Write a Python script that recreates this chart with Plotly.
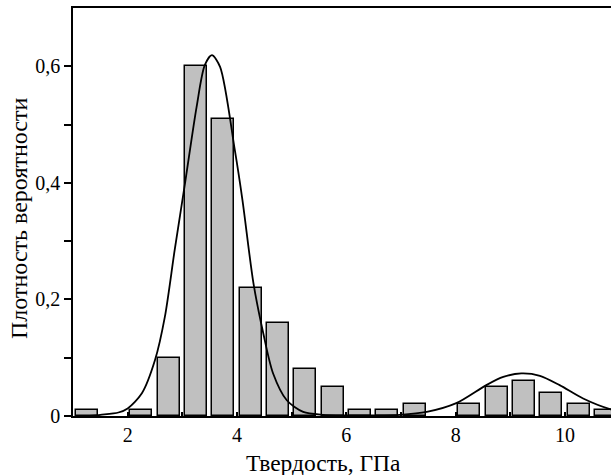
import plotly.graph_objects as go

# Histogram bins (centers, GPa) and probability density values (None = empty bin)
bin_centers = [1.25, 1.75, 2.25, 2.75, 3.25, 3.75, 4.25, 4.75, 5.25, 5.75,
               6.25, 6.75, 7.25, 7.75, 8.25, 8.75, 9.25, 9.75, 10.25, 10.75]
density = [0.01, None, 0.01, 0.10, 0.60, 0.51, 0.22, 0.16, 0.08, 0.05,
           0.01, 0.01, 0.02, None, 0.02, 0.05, 0.06, 0.04, 0.02, 0.01]

# Fitted density curve
curve_x = [1.3, 1.5, 1.83, 2.0, 2.26, 2.5, 2.68, 2.86, 3.05, 3.26, 3.41, 3.54,
           3.69, 3.96, 4.10, 4.30, 4.48, 4.66, 4.91, 5.21, 5.57, 6.0, 6.5,
           6.98, 7.47, 8.01, 8.56, 8.87, 9.20, 9.54, 9.90, 10.33, 10.82, 11.0]
curve_y = [0.0, 0.002, 0.006, 0.013, 0.039, 0.096, 0.170, 0.285, 0.40, 0.53, 0.602, 0.619,
           0.599, 0.456, 0.370, 0.228, 0.142, 0.073, 0.027, 0.007, 0.002, 0.001, 0.001,
           0.002, 0.007, 0.022, 0.053, 0.067, 0.073, 0.069, 0.053, 0.030, 0.012, 0.009]

y_tick_vals = [0, 0.1, 0.2, 0.3, 0.4, 0.5, 0.6]
y_tick_text = ["0", "", "0,2", "", "0,4", "", "0,6"]
x_tick_vals = [1, 2, 3, 4, 5, 6, 7, 8, 9, 10]
x_tick_text = ["", "2", "", "4", "", "6", "", "8", "", "10"]
x_title = "Твердость, ГПа"
y_title = "Плотность вероятности"

FONT = "Liberation Serif, Times New Roman, serif"

fig = go.Figure()
fig.add_trace(go.Bar(
    x=bin_centers, y=density, width=0.4,
    marker=dict(color="#c0c0c0", line=dict(color="black", width=1.5)),
    showlegend=False,
))
fig.add_trace(go.Scatter(
    x=curve_x, y=curve_y, mode="lines",
    line=dict(color="black", width=1.8, shape="spline", smoothing=0.8),
    showlegend=False,
))

fig.update_layout(
    width=611, height=475,
    margin=dict(l=73, r=0, t=8, b=59),
    paper_bgcolor="white", plot_bgcolor="white",
    font=dict(family=FONT, size=20, color="black"),
    bargap=0,
    annotations=[
        dict(text=x_title, xref="paper", yref="paper", x=(323 - 73) / 538, y=(416 - 463) / 408,
             xanchor="center", yanchor="middle", showarrow=False,
             font=dict(family=FONT, size=23.5, color="black")),
        dict(text=y_title, xref="paper", yref="paper", x=(19 - 73) / 538, y=(416 - 218) / 408,
             xanchor="center", yanchor="middle", showarrow=False, textangle=-90,
             font=dict(family=FONT, size=24, color="black")),
    ],
)
fig.update_xaxes(
    range=[1, 10.84], showgrid=False, zeroline=False, automargin=False,
    showline=True, linecolor="black", linewidth=1.5, mirror=True,
    tickmode="array", tickvals=x_tick_vals, ticktext=x_tick_text,
    ticks="inside", ticklen=4, tickcolor="black", tickwidth=1.5,
)
fig.update_yaxes(
    range=[0, 0.7], showgrid=False, zeroline=False, automargin=False,
    showline=True, linecolor="black", linewidth=1.5,
    tickmode="array", tickvals=y_tick_vals, ticktext=y_tick_text,
    ticks="outside", ticklen=7, tickcolor="black", tickwidth=1.5,
)

fig.write_html("out.html", config={"displayModeBar": False},
               post_script="document.body.style.margin='0px';")
